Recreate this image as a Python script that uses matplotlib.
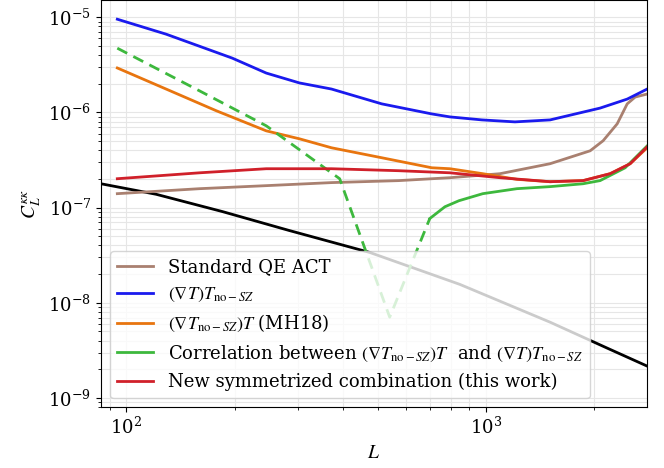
import numpy as np
import matplotlib
matplotlib.use("Agg")
import matplotlib.pyplot as plt
from matplotlib.font_manager import FontProperties
from matplotlib.ticker import LogLocator, NullFormatter

plt.rcParams['font.family'] = 'DejaVu Serif'
plt.rcParams['mathtext.fontset'] = 'dejavuserif'

# curves (L, C_L^kk)
L_std = [94.4, 160, 245, 372, 572, 794, 1094, 1508, 1949, 2118, 2317, 2471, 2600, 2808]
c_std = [1.40e-7, 1.58e-7, 1.70e-7, 1.83e-7, 1.92e-7, 2.06e-7, 2.27e-7, 2.89e-7,
         3.95e-7, 5.04e-7, 7.58e-7, 1.23e-6, 1.45e-6, 1.56e-6]

L_grad = [94.4, 129, 197, 245, 303, 372, 513, 707, 794, 975, 1204, 1508, 2077, 2471, 2808]
c_grad = [9.53e-6, 6.64e-6, 3.72e-6, 2.59e-6, 2.04e-6, 1.76e-6, 1.23e-6, 9.64e-7,
          8.97e-7, 8.34e-7, 7.95e-7, 8.34e-7, 1.11e-6, 1.38e-6, 1.76e-6]

L_mh18 = [94.4, 129, 178, 245, 303, 372, 513, 707, 794, 980, 1220, 1508, 1863, 2215, 2518, 2808]
c_mh18 = [2.93e-6, 1.76e-6, 1.04e-6, 6.4e-7, 5.28e-7, 4.25e-7, 3.34e-7, 2.62e-7,
          2.56e-7, 2.27e-7, 1.98e-7, 1.87e-7, 1.92e-7, 2.27e-7, 2.89e-7, 4.25e-7]

# correlation: negative part (dashed) and positive part (solid)
L_corr_neg = [94.4, 160, 245, 392, 540, 698]
c_corr_neg = [4.73e-6, 1.68e-6, 7.23e-7, 2.01e-7, 7.05e-9, 7.67e-8]
L_corr_pos = [698, 769, 841, 980, 1220, 1508, 1863, 2077, 2439, 2808]
c_corr_pos = [7.67e-8, 1.02e-7, 1.18e-7, 1.40e-7, 1.58e-7, 1.66e-7, 1.78e-7,
              1.92e-7, 2.62e-7, 4.45e-7]

L_sym = [94.4, 160, 245, 372, 572, 794, 1094, 1508, 1863, 2215, 2518, 2808]
c_sym = [2.01e-7, 2.32e-7, 2.56e-7, 2.56e-7, 2.44e-7, 2.32e-7, 2.06e-7, 1.87e-7,
         1.92e-7, 2.27e-7, 2.89e-7, 4.35e-7]

# lensing power spectrum
L_theory = [85, 121, 185, 284, 475, 846, 1508, 2173, 2808]
c_theory = [1.78e-7, 1.38e-7, 9.08e-8, 5.74e-8, 3.38e-8, 1.56e-8, 6.25e-9, 3.34e-9, 2.16e-9]

fig = plt.figure(figsize=(6.64, 4.68), dpi=100)
ax = fig.add_axes([0.152, 0.130, 0.822, 0.869])

lw = 2.0
ax.plot(L_theory, c_theory, color='black', lw=lw)
ax.plot(L_std, c_std, color='#a98070', lw=lw, label='Standard QE ACT')
ax.plot(L_grad, c_grad, color='#1a1aee', lw=lw, label=r'$(\nabla T)T_{{\rm no}-SZ}$')
ax.plot(L_mh18, c_mh18, color='#e8750f', lw=lw, label=r'$(\nabla T_{{\rm no}-SZ})T$ (MH18)')
ax.plot(L_corr_neg, c_corr_neg, color='#3db83d', lw=lw, ls=(0, (4, 2.5)))
ax.plot(L_corr_pos, c_corr_pos, color='#3db83d', lw=lw,
        label=r'Correlation between $(\nabla T_{{\rm no}-SZ})T$  and $(\nabla T)T_{{\rm no}-SZ}$')
ax.plot(L_sym, c_sym, color='#d0202a', lw=lw, label='New symmetrized combination (this work)')

ax.set_xscale('log')
ax.set_yscale('log')
ax.set_xlim(85, 2800)
ax.set_ylim(8e-10, 1.5e-5)
ax.set_yticks([1e-9, 1e-8, 1e-7, 1e-6, 1e-5])
ax.yaxis.set_minor_locator(LogLocator(base=10, subs=np.arange(2, 10), numticks=20))
ax.xaxis.set_minor_formatter(NullFormatter())
ax.yaxis.set_minor_formatter(NullFormatter())
ax.tick_params(labelsize=13)
ax.grid(True, which='both', color='#e6e6e6', lw=0.8)
ax.set_axisbelow(True)

ax.set_xlabel(r'$L$', fontsize=14, math_fontfamily='stix')
ax.set_ylabel(r'$C_L^{\kappa\kappa}$', fontsize=14, math_fontfamily='stix')

prop = FontProperties(family='DejaVu Serif', size=13, math_fontfamily='stix')
ax.legend(loc='lower left', prop=prop, borderaxespad=0.5)

fig.savefig('out.png', dpi=100)
